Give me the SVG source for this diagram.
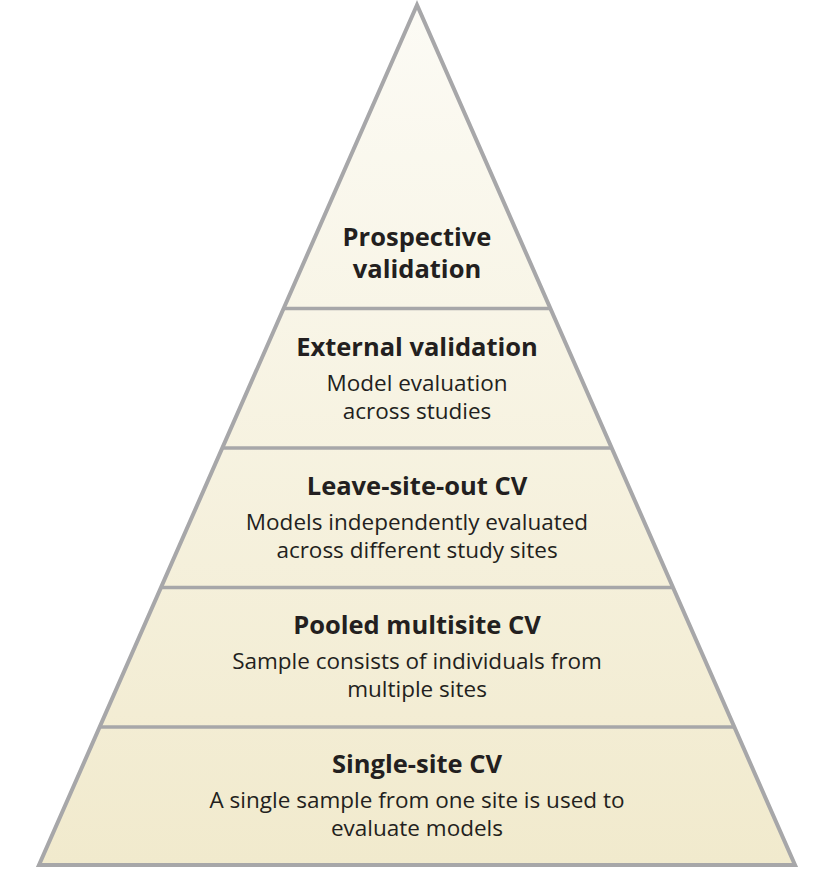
<svg xmlns="http://www.w3.org/2000/svg" width="815" height="881" viewBox="0 0 815 881">
<defs>
<linearGradient id="fill" x1="0" y1="5" x2="0" y2="865" gradientUnits="userSpaceOnUse">
<stop offset="0" stop-color="#fcfbf5"/>
<stop offset="1" stop-color="#f1eacd"/>
</linearGradient>
<clipPath id="tri"><polygon points="417,5 39,865 795,865"/></clipPath>
</defs>
<style>
.t{font-family:"Open Sans","Noto Sans",sans-serif;font-weight:bold;font-size:25.5px;fill:#231f20;text-anchor:middle}
.s{font-family:"Open Sans","Noto Sans",sans-serif;font-size:22.5px;fill:#231f20;text-anchor:middle}
.div{stroke:#a7a7a9;stroke-width:3.5}
</style>
<rect width="815" height="881" fill="#ffffff"/>
<g id="pyramid">
<polygon points="417,5 39,865 795,865" fill="url(#fill)" stroke="#a7a7a9" stroke-width="4" stroke-linejoin="miter"/>
</g>
<g id="connectors" clip-path="url(#tri)">
<line class="div" x1="0" y1="308.5" x2="815" y2="308.5"/>
<line class="div" x1="0" y1="448" x2="815" y2="448"/>
<line class="div" x1="0" y1="587.5" x2="815" y2="587.5"/>
<line class="div" x1="0" y1="727" x2="815" y2="727"/>
</g>
<g id="prospective">
<text class="t" x="417" y="246">Prospective</text>
<text class="t" x="417" y="278">validation</text>
</g>
<g id="external">
<text class="t" x="417" y="356">External validation</text>
<text class="s" x="417" y="391">Model evaluation</text>
<text class="s" x="417" y="419">across studies</text>
</g>
<g id="leave-site-out">
<text class="t" x="417" y="495">Leave-site-out CV</text>
<text class="s" x="417" y="530">Models independently evaluated</text>
<text class="s" x="417" y="558">across different study sites</text>
</g>
<g id="pooled">
<text class="t" x="417" y="634">Pooled multisite CV</text>
<text class="s" x="417" y="669">Sample consists of individuals from</text>
<text class="s" x="417" y="697">multiple sites</text>
</g>
<g id="single-site">
<text class="t" x="417" y="773">Single-site CV</text>
<text class="s" x="417" y="808">A single sample from one site is used to</text>
<text class="s" x="417" y="836">evaluate models</text>
</g>
</svg>
